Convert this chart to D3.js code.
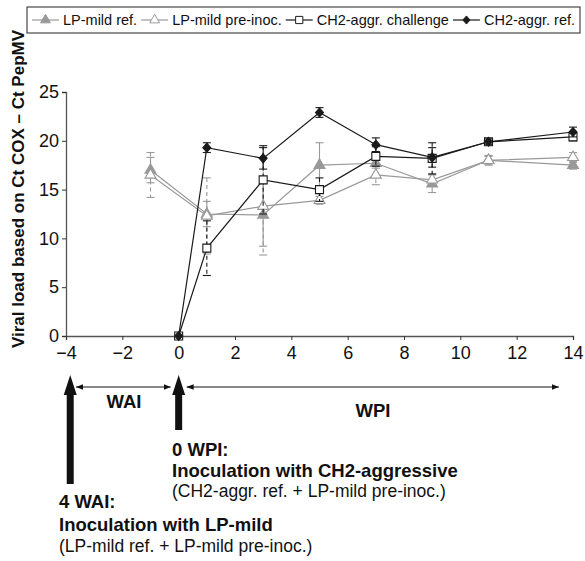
<!DOCTYPE html>
<html lang="en">
<head>
<meta charset="utf-8">
<title>Viral load</title>
<script src="https://d3js.org/d3.v7.min.js"></script>
<style>
  body { margin: 0; background: #fff; }
  svg { font-family: "Liberation Sans", Arial, sans-serif; }
</style>
</head>
<body>
<svg width="585" height="561"></svg>
<script>
// weeks (negative = WAI, positive = WPI)
const lpWeeks = [-1, 1, 3, 5, 7, 9, 11, 14];
const ch2Weeks = [0, 1, 3, 5, 7, 9, 11, 14];

const lpRef      = [17.0, 12.5, 12.4, 17.5, 17.7, 15.6, 18.0, 17.5];
const lpRefErr   = [1.3, 1.3, 3.2, 2.3, 0.5, 0.9, 0.5, 0.4];
const lpPre      = [16.5, 12.3, 13.3, 13.9, 16.5, 16.0, 18.0, 18.3];
const lpPreErr   = [2.3, 3.9, 5.0, 0.4, 1.0, 0.6, 0.4, 0.5];
const ch2Chal    = [0, 9.0, 16.0, 15.0, 18.4, 18.2, 19.9, 20.4];
const ch2ChalErr = [0, 2.8, 3.5, 1.2, 1.0, 1.6, 0.3, 0.4];
const ch2Ref     = [0, 19.3, 18.2, 22.9, 19.6, 18.3, 19.9, 20.9];
const ch2RefErr  = [0, 0.5, 1.1, 0.5, 0.7, 1.0, 0.3, 0.5];

const xTicks = [-4, -2, 0, 2, 4, 6, 8, 10, 12, 14];
const yTicks = [0, 5, 10, 15, 20, 25];

const grey = "#999", dark = "#1a1a1a";

const series = [
  {name: "LP-mild ref.", x: lpWeeks, y: lpRef, e: lpRefErr, color: grey, marker: "triUp", fill: true, dash: null},
  {name: "LP-mild pre-inoc.", x: lpWeeks, y: lpPre, e: lpPreErr, color: grey, marker: "triUp", fill: false, dash: "4,3"},
  {name: "CH2-aggr. challenge", x: ch2Weeks, y: ch2Chal, e: ch2ChalErr, color: dark, marker: "square", fill: false, dash: "4,3"},
  {name: "CH2-aggr. ref.", x: ch2Weeks, y: ch2Ref, e: ch2RefErr, color: dark, marker: "diamond", fill: true, dash: null}
];

const svg = d3.select("svg");
const x = d3.scaleLinear().domain([-4, 14]).range([66, 573]);
const y = d3.scaleLinear().domain([0, 25]).range([336, 92]);

// axes
const yAxis = svg.append("g").attr("transform", "translate(66,0)")
  .call(d3.axisLeft(y).tickValues(yTicks).tickSize(4).tickPadding(3).tickFormat(d3.format("d")));
const xAxis = svg.append("g").attr("transform", `translate(0,${y(0)})`)
  .call(d3.axisBottom(x).tickValues(xTicks).tickSize(4).tickPadding(6)
    .tickFormat(d => d < 0 ? "\u2212" + Math.abs(d) : d));
[yAxis, xAxis].forEach(a => {
  a.select(".domain").attr("stroke", "#555").attr("stroke-width", 1.3);
  a.selectAll(".tick line").attr("stroke", "#333");
  a.selectAll(".tick text").attr("fill", "#111").style("font-size", "18px");
});

function markerPath(type) {
  if (type === "triUp") return d3.symbol(d3.symbolTriangle, 52)();
  if (type === "square") return "M-4,-4H4V4H-4Z";
  return "M0,-4.5L4,0L0,4.5L-4,0Z";
}

// error bars, lines, markers
series.forEach(s => {
  const g = svg.append("g");
  const pts = s.x.map((w, i) => ({w, v: s.y[i], e: s.e[i]}));
  g.selectAll("line.err").data(pts.filter(p => p.e > 0)).join("line")
    .attr("x1", p => x(p.w)).attr("x2", p => x(p.w))
    .attr("y1", p => y(p.v + p.e)).attr("y2", p => y(p.v - p.e))
    .attr("stroke", s.color).attr("stroke-width", 1.1)
    .attr("stroke-dasharray", s.dash);
  [1, -1].forEach(sg => {
    g.selectAll(null).data(pts.filter(p => p.e > 0)).join("line")
      .attr("x1", p => x(p.w) - 4).attr("x2", p => x(p.w) + 4)
      .attr("y1", p => y(p.v + sg * p.e)).attr("y2", p => y(p.v + sg * p.e))
      .attr("stroke", s.color).attr("stroke-width", 1.1);
  });
  g.append("path").datum(pts)
    .attr("d", d3.line().x(p => x(p.w)).y(p => y(p.v)))
    .attr("fill", "none").attr("stroke", s.color).attr("stroke-width", 1.2);
  g.selectAll("path.m").data(pts).join("path")
    .attr("transform", p => `translate(${x(p.w)},${y(p.v)})`)
    .attr("d", markerPath(s.marker))
    .attr("fill", s.fill ? s.color : "#fff")
    .attr("stroke", s.color).attr("stroke-width", 1.1);
});

// legend
svg.append("rect").attr("x", 27).attr("y", 7).attr("width", 553).attr("height", 26)
  .attr("fill", "none").attr("stroke", "#222").attr("stroke-width", 1);
let lx = 32;
series.forEach(s => {
  const g = svg.append("g");
  g.append("line").attr("x1", lx).attr("x2", lx + 27).attr("y1", 20).attr("y2", 20)
    .attr("stroke", s.color).attr("stroke-width", 1.2);
  g.append("path").attr("transform", `translate(${lx + 13.5},20) scale(0.9)`)
    .attr("d", markerPath(s.marker))
    .attr("fill", s.fill ? s.color : "#fff").attr("stroke", s.color).attr("stroke-width", 1.1);
  const t = g.append("text").attr("x", lx + 31).attr("y", 25)
    .style("font-size", "14.5px").attr("fill", "#111").text(s.name);
  lx += 31 + t.node().getComputedTextLength() + 4;
});

// y title
svg.append("text")
  .attr("transform", "translate(24,189) rotate(-90)")
  .attr("text-anchor", "middle")
  .style("font-size", "17px").style("font-weight", "bold").attr("fill", "#111")
  .text("Viral load based on Ct COX \u2013 Ct PepMV");

// WAI / WPI double arrows
const defs = svg.append("defs");
defs.append("marker").attr("id", "ah").attr("viewBox", "0 0 10 10").attr("refX", 10).attr("refY", 5)
  .attr("markerWidth", 7).attr("markerHeight", 7).attr("orient", "auto-start-reverse")
  .append("path").attr("d", "M0,1L10,5L0,9Z").attr("fill", "#111");
const arrowY = 387;
[[x(-4) + 10, x(0) - 8], [x(0) + 8, x(13.5)]].forEach(([a, b]) => {
  svg.append("line").attr("x1", a).attr("x2", b).attr("y1", arrowY).attr("y2", arrowY)
    .attr("stroke", "#111").attr("stroke-width", 1)
    .attr("marker-start", "url(#ah)").attr("marker-end", "url(#ah)");
});
svg.append("text").attr("x", 124).attr("y", 408).attr("text-anchor", "middle")
  .style("font-size", "18.5px").style("font-weight", "bold").attr("fill", "#111").text("WAI");
svg.append("text").attr("x", 373).attr("y", 417).attr("text-anchor", "middle")
  .style("font-size", "18.5px").style("font-weight", "bold").attr("fill", "#111").text("WPI");

// thick inoculation arrows
function bigArrow(cx, top, bottom) {
  svg.append("path")
    .attr("d", `M${cx - 3.5},${bottom}V${top + 20}H${cx - 6.5}L${cx},${top}L${cx + 6.5},${top + 20}H${cx + 3.5}V${bottom}Z`)
    .attr("fill", "#111");
}
bigArrow(x(-3.85), 375, 484);
bigArrow(x(0), 375, 430);

// annotation text
const ann = [
  {x: 172, y: 456, t: "0 WPI:", b: true},
  {x: 172, y: 477, t: "Inoculation with CH2-aggressive", b: true},
  {x: 172, y: 497, t: "(CH2-aggr. ref. + LP-mild pre-inoc.)", b: false},
  {x: 59, y: 508, t: "4 WAI:", b: true},
  {x: 59, y: 531, t: "Inoculation with LP-mild", b: true},
  {x: 59, y: 552, t: "(LP-mild ref. + LP-mild pre-inoc.)", b: false}
];
svg.selectAll("text.ann").data(ann).join("text")
  .attr("x", d => d.x).attr("y", d => d.y)
  .style("font-size", d => d.b ? "18.5px" : "17.5px")
  .style("font-weight", d => d.b ? "bold" : "normal")
  .attr("fill", "#111").text(d => d.t);
</script>
</body>
</html>
